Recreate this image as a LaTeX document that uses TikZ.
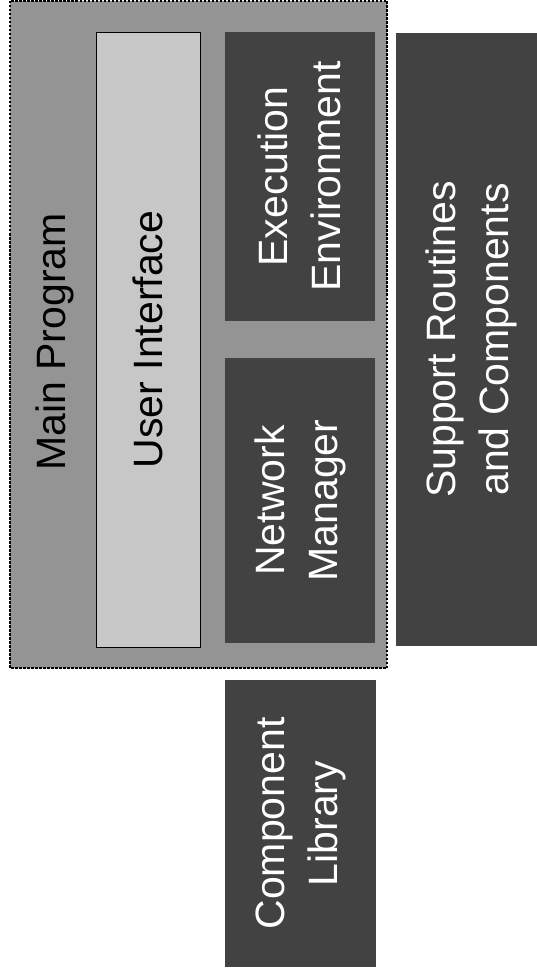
\documentclass[tikz,border=0pt]{standalone}
\usepackage{fontspec}
\setmainfont{Liberation Sans}
\begin{document}
\begin{tikzpicture}[
  x=1pt, y=-1pt,
  every node/.style={font=\fontsize{41}{53}\selectfont, align=center, rotate=90, inner sep=0pt},
  mainbox/.style={draw, fill=black!42, line width=1.4pt, dash pattern=on 2.5pt off 1.5pt},
  uibox/.style={draw, fill=black!22, line width=0.8pt},
  darkbox/.style={fill=black!74, text=white}
]
  \useasboundingbox (0,0) rectangle (537,976);
  \node[mainbox, minimum width=667pt, minimum height=377pt] (main) at (198.5,334.5) {};
  \node (mainlbl) at (55,342) {Main Program};
  \node[uibox, minimum width=615pt, minimum height=104pt] (ui) at (148,339.5) {User Interface};
  \node[darkbox, minimum width=289pt, minimum height=150pt] (exec) at (299.5,176.5) {Execution\\Environment};
  \node[darkbox, minimum width=285pt, minimum height=150pt] (net) at (300,500.5) {Network\\Manager};
  \node[darkbox, minimum width=613pt, minimum height=150pt] (support) at (471,339.5) {Support Routines\\and Components};
  \node[darkbox, minimum width=287pt, minimum height=151pt] (complib) at (300.5,823.5) {Component\\Library};
\end{tikzpicture}
\end{document}
